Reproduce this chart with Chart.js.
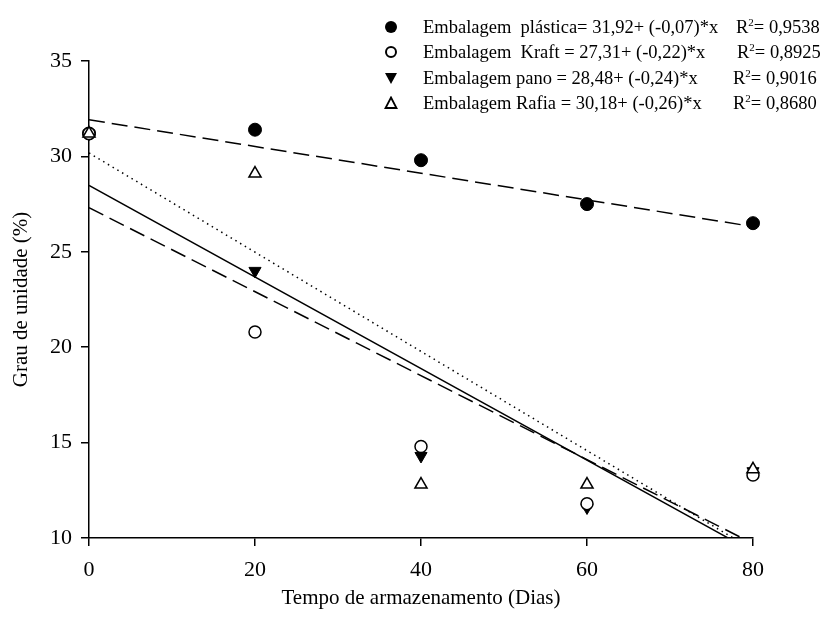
<!DOCTYPE html>
<html>
<head>
<meta charset="utf-8">
<script src="https://cdn.jsdelivr.net/npm/chart.js@4/dist/chart.umd.min.js"></script>
<style>
body { margin: 0; background: #fff; }
#wrap { position: relative; width: 826px; height: 622px; }
#legenda { position: absolute; left: 0; top: 0; font-family: 'Liberation Serif', 'Times New Roman', serif; font-size: 18.5px; color: #000; }
.linha { position: absolute; left: 0; height: 24px; width: 826px; }
.linha svg { position: absolute; left: 384px; top: 5px; }
.linha .eq { position: absolute; left: 423px; top: 0; line-height: 24px; white-space: pre; }
.linha .r2 { position: absolute; top: 0; line-height: 24px; white-space: pre; }
.linha sup { font-size: 11px; vertical-align: 7px; line-height: 0; }
</style>
</head>
<body>
<div id="wrap">
  <canvas id="grafico" width="826" height="622"></canvas>
  <div id="legenda"></div>
</div>
<script>
// dados
const dias = [0, 20, 40, 60, 80];
const plastica = [31.2, 31.4, 29.8, 27.5, 26.5];
const kraft = [31.2, 20.8, 14.8, 11.8, 13.3];
const pano = [31.2, 24.0, 14.3, 11.6, 13.5];
const rafia = [31.2, 29.1, 12.8, 12.8, 13.6];

// equações de regressão (legenda)
const nomes = ['Embalagem  plástica= 31,92+ (-0,07)*x', 'Embalagem  Kraft = 27,31+ (-0,22)*x', 'Embalagem pano = 28,48+ (-0,24)*x', 'Embalagem Rafia = 30,18+ (-0,26)*x'];
const intercepto = [31.92, 27.31, 28.48, 30.18];
const inclinacao = [-0.07, -0.22, -0.24, -0.26];
const r2 = ['0,9538', '0,8925', '0,9016', '0,8680'];
const yTicks = [10, 15, 20, 25, 30, 35];
const xTicks = [0, 20, 40, 60, 80];

const serie = (ys) => dias.map((d, i) => ({ x: d, y: ys[i] }));
const reta = (k) => [0, 80].map(x => ({ x: x, y: intercepto[k] + inclinacao[k] * x }));

const fonteTick = { family: "'Liberation Serif', 'Times New Roman', serif", size: 22 };
const fonteTitulo = { family: "'Liberation Serif', 'Times New Roman', serif", size: 21 };
const tracos = [[16, 7], [16, 7], [], [1.5, 4]];

const linhas = [0, 1, 2, 3].map(k => ({
    type: 'line', data: reta(k), showLine: true, borderColor: '#000', borderWidth: 1.5,
    borderDash: tracos[k], pointRadius: 0, fill: false, clip: 0, order: 10
}));

const pontos = [
    { data: serie(rafia), pointStyle: 'triangle', pointRadius: 7, backgroundColor: '#fff', borderColor: '#000', borderWidth: 1.5, order: 1 },
    { data: serie(kraft), pointStyle: 'circle', pointRadius: 6, backgroundColor: '#fff', borderColor: '#000', borderWidth: 1.5, order: 2 },
    { data: serie(pano), pointStyle: 'triangle', rotation: 180, pointRadius: 7, backgroundColor: '#000', borderColor: '#000', borderWidth: 1, order: 3 },
    { data: serie(plastica), pointStyle: 'circle', pointRadius: 6.5, backgroundColor: '#000', borderColor: '#000', borderWidth: 1, order: 4 }
].map(p => Object.assign({ type: 'scatter', showLine: false, clip: false }, p));

new Chart(document.getElementById('grafico').getContext('2d'), {
    type: 'scatter',
    data: { datasets: pontos.concat(linhas) },
    options: {
        responsive: false, animation: false, devicePixelRatio: 1,
        layout: { padding: { top: 61, right: 73, left: 0, bottom: 0 } },
        plugins: { legend: { display: false }, tooltip: { enabled: false } },
        scales: {
            x: {
                type: 'linear', min: 0, max: 80,
                afterBuildTicks: s => { s.ticks = xTicks.map(v => ({ value: v })); },
                afterFit: s => { s.height = 84; },
                grid: { drawOnChartArea: false, drawTicks: true, tickLength: 8, color: '#000', lineWidth: 1.5 },
                border: { display: true, color: '#000', width: 1.5 },
                ticks: { color: '#000', font: fonteTick, padding: 11, maxRotation: 0 },
                title: { display: true, text: 'Tempo de armazenamento (Dias)', color: '#000', font: fonteTitulo, padding: { top: 0, bottom: 11 } }
            },
            y: {
                type: 'linear', min: 10, max: 35,
                afterBuildTicks: s => { s.ticks = yTicks.map(v => ({ value: v })); },
                afterFit: s => { s.width = 89; },
                grid: { drawOnChartArea: false, drawTicks: true, tickLength: 8, color: '#000', lineWidth: 1.5 },
                border: { display: true, color: '#000', width: 1.5 },
                ticks: { color: '#000', font: fonteTick, padding: 9 },
                title: { display: true, text: 'Grau de unidade (%)', color: '#000', font: fonteTitulo, padding: { top: 9, bottom: 0 } }
            }
        }
    }
});

// legenda em HTML
const simbolos = [
    '<svg width="14" height="14"><circle cx="7" cy="7" r="6" fill="#000"/></svg>',
    '<svg width="14" height="14"><circle cx="7" cy="7" r="5" fill="#fff" stroke="#000" stroke-width="2"/></svg>',
    '<svg width="14" height="14"><polygon points="1,2 13,2 7,13" fill="#000"/></svg>',
    '<svg width="14" height="14"><polygon points="7,1.5 12.5,12 1.5,12" fill="#fff" stroke="#000" stroke-width="1.8"/></svg>'
];
const topos = [15, 40, 66, 91];
const r2Esq = [736, 737, 733, 733];
const leg = document.getElementById('legenda');
nomes.forEach((n, k) => {
    leg.insertAdjacentHTML('beforeend',
        `<div class="linha" style="top:${topos[k]}px">${simbolos[k]}<span class="eq">${n}</span><span class="r2" style="left:${r2Esq[k]}px">R<sup>2</sup>= ${r2[k]}</span></div>`);
});
</script>
</body>
</html>
